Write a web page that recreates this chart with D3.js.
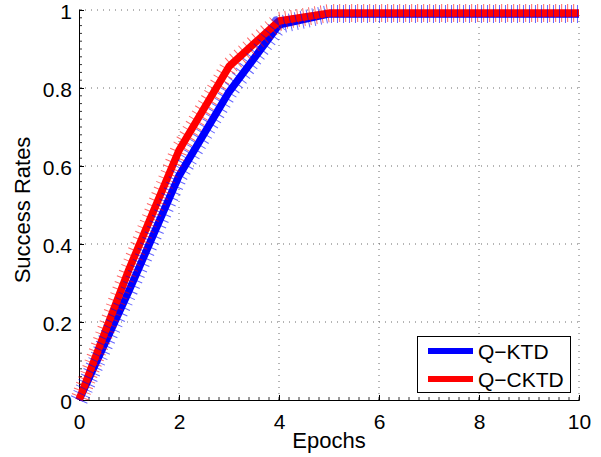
<!DOCTYPE html>
<html><head><meta charset="utf-8">
<script src="https://cdn.jsdelivr.net/npm/d3@7"></script>
<style>body{margin:0;background:#fff}svg{display:block}text{font-family:"Liberation Sans",Arial,sans-serif;fill:#000}</style>
</head><body><svg id="c" width="601" height="457"></svg>
<script>
const epochs = [0,1,2,3,4,5,6,7,8,9,10];
const qktd  = [0,0.28,0.575,0.79,0.962,0.99,0.99,0.99,0.99,0.99,0.99];
const qcktd = [0,0.335,0.64,0.855,0.972,0.992,0.992,0.992,0.992,0.992,0.992];
const seriesNames = ["Q\u2212KTD","Q\u2212CKTD"];
const colors = ["#0000ff","#ff0000"];
const xTicks = [0,2,4,6,8,10];
const yTicks = [0,0.2,0.4,0.6,0.8,1];

const svg = d3.select("#c");
const x = d3.scaleLinear().domain([0,10]).range([79,579]);
const y = d3.scaleLinear().domain([0,1]).range([400,10]);

// grid
const g = svg.append("g");
g.selectAll(".gx").data(xTicks.slice(1)).join("line")
  .attr("x1",d=>x(d)).attr("x2",d=>x(d)).attr("y1",y(0)).attr("y2",y(1))
  .attr("stroke","#6a6a6a").attr("stroke-width",1).attr("stroke-dasharray","1,5");
g.selectAll(".gy").data(yTicks.slice(1)).join("line")
  .attr("y1",d=>y(d)).attr("y2",d=>y(d)).attr("x1",x(0)).attr("x2",x(10))
  .attr("stroke","#6a6a6a").attr("stroke-width",1).attr("stroke-dasharray","1,5");

// axes
const xa = svg.append("g").attr("transform",`translate(0,${y(0)})`)
  .call(d3.axisBottom(x).tickValues(xTicks).tickSize(-5).tickPadding(10).tickFormat(d3.format("d")));
const ya = svg.append("g").attr("transform",`translate(${x(0)},0)`)
  .call(d3.axisLeft(y).tickValues(yTicks).tickSize(-5).tickPadding(7).tickFormat(d=>d===0||d===1?d3.format("d")(d):d3.format(".1f")(d)));
[xa,ya].forEach(a=>{
  a.select(".domain").attr("stroke","#000").attr("stroke-width",1);
  a.selectAll(".tick line").attr("stroke","#000");
  a.selectAll(".tick text").style("font-size","21px").attr("font-family",null);
});
xa.selectAll(".tick text").attr("dy","0.9em");
ya.selectAll(".tick text").attr("dy","0.4em");
// minor ticks
const xm = d3.range(0,10.001,0.2), ym = d3.range(0,1.0001,0.02);
svg.append("g").selectAll("line").data(xm).join("line")
  .attr("x1",d=>x(d)).attr("x2",d=>x(d)).attr("y1",y(0)).attr("y2",y(0)-3).attr("stroke","#000").attr("stroke-width",0.8);
svg.append("g").selectAll("line").data(ym).join("line")
  .attr("y1",d=>y(d)).attr("y2",d=>y(d)).attr("x1",x(0)).attr("x2",x(0)+3).attr("stroke","#000").attr("stroke-width",0.8);

// lines
const line = d3.line().x((d,i)=>x(epochs[i])).y(d=>y(d));
const data = [qktd,qcktd];
data.forEach((s,k)=>{
  svg.append("path").datum(s).attr("d",line).attr("fill","none")
    .attr("stroke",colors[k]).attr("stroke-width",7.5).attr("stroke-linejoin","round");
});
data.forEach((s,k)=>{
  svg.append("path").datum(s).attr("d",line).attr("fill","none")
    .attr("stroke",colors[k]).attr("stroke-opacity",0.6).attr("stroke-width",18)
    .attr("stroke-dasharray","1,5").attr("stroke-dashoffset",k===0?0:3)
    .attr("stroke-linejoin","miter");
});

// labels
svg.append("text").attr("x",329).attr("y",448).attr("text-anchor","middle").style("font-size","22px").text("Epochs");
svg.append("text").attr("transform","translate(30,210) rotate(-90)").attr("text-anchor","middle").style("font-size","22px").text("Success Rates");

// legend
const lg = svg.append("g");
lg.append("rect").attr("x",417.5).attr("y",336.5).attr("width",153).attr("height",56).attr("fill","#fff").attr("stroke","#000").attr("stroke-width",1);
seriesNames.forEach((n,i)=>{
  const yy = 351 + i*28;
  lg.append("line").attr("x1",428).attr("x2",473).attr("y1",yy).attr("y2",yy).attr("stroke",colors[i]).attr("stroke-width",6);
  lg.append("text").attr("x",478).attr("y",yy).attr("dy","0.36em").style("font-size","21px").text(n);
});
</script></body></html>
